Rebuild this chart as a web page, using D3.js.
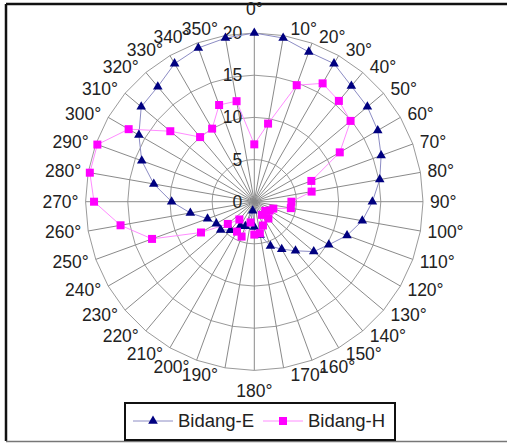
<!DOCTYPE html>
<html lang="en">
<head>
<meta charset="UTF-8">
<title>Bidang-E / Bidang-H</title>
<script src="https://d3js.org/d3.v7.min.js"></script>
<style>
    body { margin: 0; padding: 0; background: #fff; overflow: hidden; }
    svg { display: block; }
    text { font-family: Arial, "Liberation Sans", sans-serif; fill: #222; }
</style>
</head>
<body>
<svg id="chart" width="507" height="443"></svg>
<script>
// angles in degrees, one category every 10°
var angles = d3.range(0, 360, 10);
var angleLabels = angles.map(function(a) { return a + "°"; });
var radialTicks = [0, 5, 10, 15, 20];

// Bidang-E (triangles)
var bidangE = [20, 19.7, 18.9, 18.9, 17.9, 17.5, 16.9, 16.0, 15.1, 14.0, 13.0, 11.7,
               10.2, 9.2, 7.6, 6.5, 5.6, 4.0, 3.0, 1.1, 3.1, 3.3, 4.4, 5.2,
               5.2, 5.9, 7.7, 9.8, 12.1, 14.2, 15.8, 17.5, 17.8, 18.9, 19.4, 19.7];

// Bidang-H (squares)
var bidangH = [6.8, 9.4, 14.7, 16.2, 15.6, 14.9, 11.7, 7.2, 6.9, 4.4, 4.4, 2.4,
               2.1, 1.7, 2.6, 1.8, 3.0, 3.8, 3.9, 2.5, 4.4, 4.1, 2.75, 4.1,
               7.3, 12.9, 16.1, 19.0, 19.8, 19.8, 17.2, 13.0, 10.0, 10.0, 12.2, 12.1];

var svg = d3.select("#chart");
var cx = 254.3, cy = 201.7, R = 168.7;

var r = d3.scaleLinear().domain([0, 20]).range([0, R]);
var ang = d3.scaleLinear().domain([0, 360]).range([0, 2 * Math.PI]);

// chart border
svg.append("line").attr("x1", 6).attr("y1", 4).attr("x2", 507).attr("y2", 4)
    .attr("stroke", "#111").attr("stroke-width", 2.5);
svg.append("line").attr("x1", 6).attr("y1", 4).attr("x2", 6).attr("y2", 441)
    .attr("stroke", "#111").attr("stroke-width", 2.5);
svg.append("line").attr("x1", 6).attr("y1", 441.5).attr("x2", 507).attr("y2", 441.5)
    .attr("stroke", "#777").attr("stroke-width", 1.5);

var g = svg.append("g").attr("transform", "translate(" + cx + "," + cy + ")");

// rings
var ringLine = d3.lineRadial()
    .angle(function(d) { return ang(d); })
    .curve(d3.curveLinearClosed);
radialTicks.slice(1).forEach(function(t) {
    g.append("path")
        .attr("d", ringLine.radius(r(t))(angles))
        .attr("fill", "none")
        .attr("stroke", "#9a9a9a")
        .attr("stroke-width", 1);
});

// spokes
g.selectAll(".spoke")
    .data(angles)
    .enter().append("line")
    .attr("class", "spoke")
    .attr("x1", 0).attr("y1", 0)
    .attr("x2", function(d) { return r(20) * Math.sin(ang(d)); })
    .attr("y2", function(d) { return -r(20) * Math.cos(ang(d)); })
    .attr("stroke", "#8a8a8a")
    .attr("stroke-width", 1);

// radial tick labels
g.selectAll(".rtick")
    .data(radialTicks)
    .enter().append("text")
    .attr("class", "rtick")
    .attr("x", -12)
    .attr("y", function(d) { return -r(d) + 6; })
    .attr("text-anchor", "end")
    .attr("font-size", 17.5)
    .text(function(d) { return d; });

// angle labels
g.selectAll(".alabel")
    .data(angles)
    .enter().append("text")
    .attr("class", "alabel")
    .attr("font-size", 17.5)
    .attr("text-anchor", function(d) {
        if (d === 0 || d === 180) return "middle";
        return d < 180 ? "start" : "end";
    })
    .attr("x", function(d) {
        var ex = r(20) * Math.sin(ang(d));
        if (d === 0 || d === 180) return ex;
        return d < 180 ? ex + 7 : ex - 7;
    })
    .attr("y", function(d) {
        var ey = -r(20) * Math.cos(ang(d));
        if (d === 0) return ey - 18;
        if (d === 180) return ey + 27;
        return ey + 6 - 7 * Math.cos(ang(d));
    })
    .text(function(d, i) { return angleLabels[i]; });

// series
var series = [
    { name: "Bidang-E", values: bidangE, line: "#8c8cc4", fill: "#000080", symbol: d3.symbolTriangle, size: 40 },
    { name: "Bidang-H", values: bidangH, line: "#ff8cff", fill: "#ff00ff", symbol: d3.symbolSquare, size: 64 }
];

var dataLine = d3.lineRadial()
    .angle(function(d, i) { return ang(angles[i]); })
    .radius(function(d) { return r(d); })
    .curve(d3.curveLinearClosed);

series.forEach(function(s) {
    g.append("path")
        .attr("d", dataLine(s.values))
        .attr("fill", "none")
        .attr("stroke", s.line)
        .attr("stroke-width", 1);
});

series.forEach(function(s) {
    g.selectAll(".m-" + s.name)
        .data(s.values)
        .enter().append("path")
        .attr("d", d3.symbol().type(s.symbol).size(s.size))
        .attr("transform", function(d, i) {
            var a = ang(angles[i]);
            return "translate(" + (r(d) * Math.sin(a)) + "," + (-r(d) * Math.cos(a)) + ")";
        })
        .attr("fill", s.fill);
});

// legend
var legend = svg.append("g");
legend.append("rect")
    .attr("x", 125).attr("y", 403).attr("width", 270).attr("height", 37)
    .attr("fill", "#fff").attr("stroke", "#111").attr("stroke-width", 2);

var legendX = [133, 263];
series.forEach(function(s, i) {
    var lx = legendX[i];
    legend.append("line")
        .attr("x1", lx).attr("x2", lx + 40)
        .attr("y1", 421).attr("y2", 421)
        .attr("stroke", s.line).attr("stroke-width", 1);
    legend.append("path")
        .attr("d", d3.symbol().type(s.symbol).size(s.size))
        .attr("transform", "translate(" + (lx + 20) + ",421)")
        .attr("fill", s.fill);
    legend.append("text")
        .attr("x", lx + 45).attr("y", 427)
        .attr("font-size", 18.5)
        .text(s.name);
});
</script>
</body>
</html>
